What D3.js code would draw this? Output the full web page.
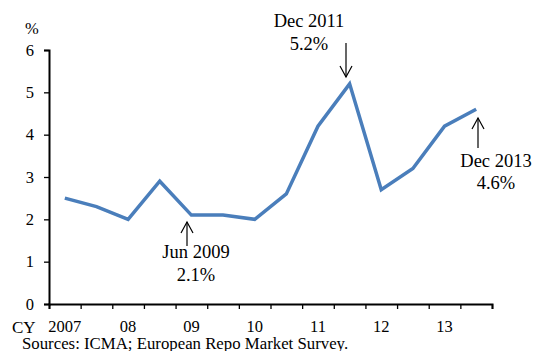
<!DOCTYPE html>
<html>
<head>
<meta charset="utf-8">
<script src="https://cdn.jsdelivr.net/npm/d3@7"></script>
<style>
  html, body { margin: 0; padding: 0; background: #fff; }
  svg { display: block; font-family: "Liberation Serif", "Times New Roman", serif; }
</style>
</head>
<body>
<svg id="chart" width="533" height="351"></svg>
<script>
// Half-year periods, 2007 to 2013
const periods = ["2007H1","2007H2","2008H1","2008H2","2009H1","2009H2","2010H1","2010H2",
                 "2011H1","2011H2","2012H1","2012H2","2013H1","2013H2"];
// Share, in percent
const shares = [2.5, 2.3, 2.0, 2.9, 2.1, 2.1, 2.0, 2.6, 4.2, 5.2, 2.7, 3.2, 4.2, 4.6];
// Year labels under the first half of each year
const yearLabels = ["2007","08","09","10","11","12","13"];
const yTicks = [0, 1, 2, 3, 4, 5, 6];
// Callouts: period index, label lines, arrow direction
const callouts = [
  { idx: 4, lines: ["Jun 2009", "2.1%"], dir: "up" },
  { idx: 9, lines: ["Dec 2011", "5.2%"], dir: "down" },
  { idx: 13, lines: ["Dec 2013", "4.6%"], dir: "up" }
];

const svg = d3.select("#chart");
const plotLeft = 49, plotRight = 492, plotTop = 50, plotBottom = 304;

const x = d3.scaleBand().domain(periods).range([plotLeft, plotRight]).padding(0);
const edges = d3.scaleLinear().domain([0, periods.length]).range([plotLeft, plotRight]);
const y = d3.scaleLinear().domain([0, 6]).range([plotBottom, plotTop]);

// Y axis
const yAxis = svg.append("g")
  .attr("transform", `translate(${plotLeft},0)`)
  .call(d3.axisLeft(y).tickValues(yTicks).tickSize(5).tickPadding(10).tickFormat(d3.format("d")));
yAxis.select(".domain").attr("stroke", "#000").attr("stroke-width", 2);
yAxis.selectAll(".tick line").attr("stroke", "#000").attr("stroke-width", 1.3);
yAxis.selectAll(".tick text")
  .attr("fill", "#000")
  .style("font-family", "Liberation Serif, serif")
  .style("font-size", "16.5px");

// X axis: ticks at half-year boundaries
const xAxis = svg.append("g")
  .attr("transform", `translate(0,${plotBottom})`)
  .call(d3.axisBottom(edges).tickValues(d3.range(periods.length + 1)).tickSize(5).tickFormat(""));
xAxis.select(".domain").attr("stroke", "#000").attr("stroke-width", 2);
xAxis.selectAll(".tick line").attr("stroke", "#000").attr("stroke-width", 1.3);

// Year labels
svg.append("g").selectAll("text")
  .data(yearLabels)
  .join("text")
  .attr("x", (d, i) => x(periods[i * 2]) + x.bandwidth() / 2)
  .attr("y", 332)
  .attr("text-anchor", "middle")
  .style("font-size", "16.5px")
  .text(d => d);

svg.append("text").attr("x", 12).attr("y", 333).style("font-size", "17px").text("CY");
svg.append("text").attr("x", 25).attr("y", 34).style("font-size", "16.5px").text("%");
svg.append("text").attr("x", 22).attr("y", 349).style("font-size", "16.8px")
  .text("Sources: ICMA; European Repo Market Survey.");

// Series line
const line = d3.line()
  .x((d, i) => x(periods[i]) + x.bandwidth() / 2)
  .y(d => y(d));
svg.append("path")
  .datum(shares)
  .attr("fill", "none")
  .attr("stroke", "#4a7ebb")
  .attr("stroke-width", 3.5)
  .attr("stroke-linejoin", "miter")
  .attr("d", line);

// Callouts with open arrows
const arrowCfg = {
  4:  { ax: 187, y1: 222, y2: 246, tx: 196, ty: 258 },
  9:  { ax: 346, y1: 43,  y2: 77,  tx: 309, ty: 27 },
  13: { ax: 478, y1: 118, y2: 148, tx: 496, ty: 166.5 }
};
callouts.forEach(c => {
  const a = arrowCfg[c.idx];
  const g = svg.append("g");
  g.append("line").attr("x1", a.ax).attr("x2", a.ax).attr("y1", a.y1).attr("y2", a.y2)
    .attr("stroke", "#000").attr("stroke-width", 1.2);
  const tipY = c.dir === "up" ? a.y1 : a.y2;
  const s = c.dir === "up" ? 1 : -1;
  g.append("path")
    .attr("d", `M${a.ax - 6},${tipY + s * 11}L${a.ax},${tipY}L${a.ax + 6},${tipY + s * 11}`)
    .attr("fill", "none").attr("stroke", "#000").attr("stroke-width", 1.2);
  c.lines.forEach((t, k) => {
    g.append("text")
      .attr("x", a.tx)
      .attr("y", a.ty + k * 22.5)
      .attr("text-anchor", "middle")
      .style("font-size", "18.5px")
      .text(t);
  });
});
</script>
</body>
</html>
